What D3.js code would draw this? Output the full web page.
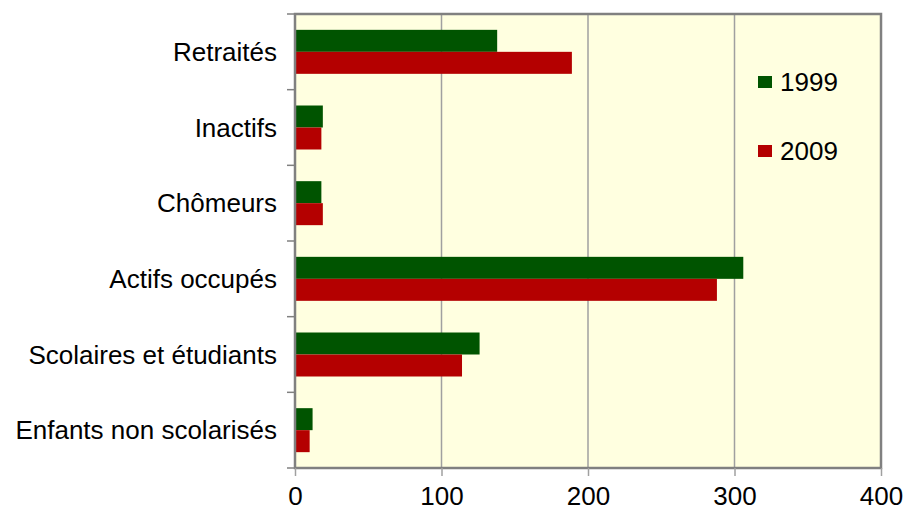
<!DOCTYPE html>
<html>
<head>
<meta charset="utf-8">
<script src="https://cdn.jsdelivr.net/npm/d3@7"></script>
<style>
  body { margin: 0; background: #fff; }
  text { font-family: "Liberation Sans", Arial, sans-serif; }
</style>
</head>
<body>
<div id="chart"></div>
<script>
const categories = ["Retraités", "Inactifs", "Chômeurs", "Actifs occupés", "Scolaires et étudiants", "Enfants non scolarisés"];
const values1999 = [138, 19, 18, 306, 126, 12];
const values2009 = [189, 18, 19, 288, 114, 10];
const seriesNames = ["1999", "2009"];
const xTicks = [0, 100, 200, 300, 400];

const width = 906;
const height = 512;
const margin = { top: 14, right: 25, bottom: 44, left: 295 };
const colors = ["#005400", "#b40000"];
const fontSize = "26px";

const svg = d3.select("#chart")
  .append("svg")
  .attr("width", width)
  .attr("height", height);

const x = d3.scaleLinear()
  .domain([0, 400])
  .range([margin.left, width - margin.right]);

const y = d3.scaleBand()
  .domain(categories)
  .range([margin.top, height - margin.bottom]);

// plot background
svg.append("rect")
  .attr("x", x(0))
  .attr("y", margin.top)
  .attr("width", x(400) - x(0))
  .attr("height", y.range()[1] - margin.top)
  .attr("fill", "#ffffe0");

// gridlines
svg.append("g")
  .selectAll("line")
  .data(xTicks.slice(1, -1))
  .enter()
  .append("line")
  .attr("x1", d => x(d))
  .attr("x2", d => x(d))
  .attr("y1", margin.top)
  .attr("y2", y.range()[1])
  .attr("stroke", "#a0a0a0")
  .attr("stroke-width", 1.5);

// bars
const inner = d3.scaleBand()
  .domain(seriesNames)
  .range([0, y.bandwidth()])
  .paddingOuter(0.72)
  .paddingInner(0);

const rows = categories.map((c, i) => ({ cat: c, vals: [values1999[i], values2009[i]] }));

const groups = svg.append("g")
  .selectAll("g")
  .data(rows)
  .enter()
  .append("g")
  .attr("transform", d => `translate(0, ${y(d.cat)})`);

groups.selectAll("rect")
  .data(d => d.vals.map((v, j) => ({ v, s: seriesNames[j], j })))
  .enter()
  .append("rect")
  .attr("x", x(0))
  .attr("y", d => inner(d.s))
  .attr("width", d => x(d.v) - x(0))
  .attr("height", inner.bandwidth())
  .attr("fill", d => colors[d.j]);

// border
svg.append("rect")
  .attr("x", x(0))
  .attr("y", margin.top)
  .attr("width", x(400) - x(0))
  .attr("height", y.range()[1] - margin.top)
  .attr("fill", "none")
  .attr("stroke", "#808080")
  .attr("stroke-width", 2.5);

// x axis
const xAxis = svg.append("g")
  .attr("transform", `translate(0, ${y.range()[1]})`)
  .call(d3.axisBottom(x).tickValues(xTicks).tickSize(8).tickPadding(11));
xAxis.select(".domain").remove();
xAxis.selectAll("line").attr("stroke", "#a0a0a0").attr("stroke-width", 1.5);
xAxis.selectAll("text").style("font-size", fontSize).attr("fill", "#000");

// y axis ticks at band edges
const yEdges = categories.map(c => y(c)).concat([y.range()[1]]);
svg.append("g")
  .selectAll("line")
  .data(yEdges)
  .enter()
  .append("line")
  .attr("x1", x(0) - 8)
  .attr("x2", x(0))
  .attr("y1", d => d)
  .attr("y2", d => d)
  .attr("stroke", "#808080")
  .attr("stroke-width", 1.5);

svg.append("g")
  .selectAll("text")
  .data(categories)
  .enter()
  .append("text")
  .attr("x", x(0) - 18)
  .attr("y", d => y(d) + y.bandwidth() / 2)
  .attr("dy", "0.35em")
  .attr("text-anchor", "end")
  .style("font-size", fontSize)
  .attr("fill", "#000")
  .text(d => d);

// legend
const legend = svg.append("g")
  .selectAll("g")
  .data(seriesNames)
  .enter()
  .append("g")
  .attr("transform", (d, i) => `translate(758, ${82 + i * 69})`);

legend.append("rect")
  .attr("x", 0)
  .attr("y", -6)
  .attr("width", 14)
  .attr("height", 12)
  .attr("fill", (d, i) => colors[i]);

legend.append("text")
  .attr("x", 22)
  .attr("y", 0)
  .attr("dy", "0.35em")
  .style("font-size", fontSize)
  .attr("fill", "#000")
  .text(d => d);
</script>
</body>
</html>
